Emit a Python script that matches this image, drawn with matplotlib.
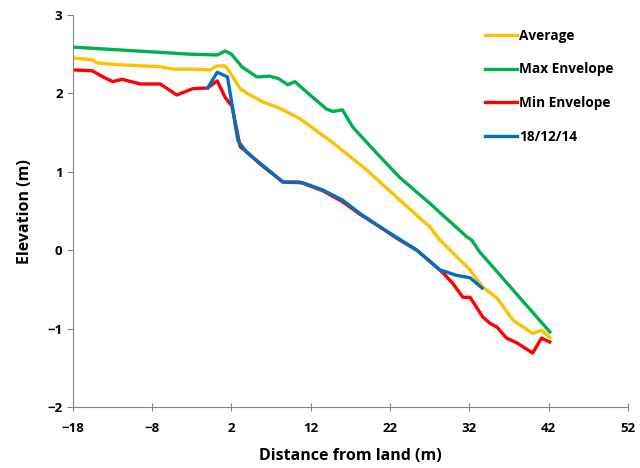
import matplotlib
matplotlib.use("Agg")
import matplotlib.pyplot as plt

# ─────────── data ───────────

avg_x = [-18, -15.6, -15, -13, -7, -5.4, -3.2, -0.7, 0.2, 1.2, 1.8, 3.1, 4, 6, 8.1,
         10.6, 14.8, 19.1, 22.9, 27, 28.3, 32.1, 33.7, 35.5, 37.5, 40, 41.1, 42.15]
avg_y = [2.45, 2.43, 2.39, 2.37, 2.34, 2.31, 2.31, 2.30, 2.35, 2.35, 2.27, 2.06, 2.0, 1.89, 1.81,
         1.68, 1.37, 1.02, 0.67, 0.30, 0.13, -0.25, -0.47, -0.61, -0.89, -1.06, -1.02, -1.11]

max_x = [-18, -3.2, 0.2, 1.2, 2, 3.3, 5.2, 6.8, 7.9, 9.1, 10, 11.9, 14, 14.8, 16,
         17.3, 20.3, 23.2, 27, 31.7, 32.3, 33.3, 42.15]
max_y = [2.59, 2.50, 2.49, 2.54, 2.50, 2.34, 2.21, 2.22, 2.19, 2.11, 2.15, 1.98, 1.80, 1.77, 1.79,
         1.57, 1.24, 0.93, 0.60, 0.17, 0.13, -0.02, -1.04]

min_x = [-18, -15.6, -14.2, -13, -11.8, -9.5, -7, -4.9, -2.9, -1, 0.2, 1.2, 2.05, 3.1, 4.1,
         5.6, 8.5, 10.6, 13.5, 16, 18.2, 20.7, 22.9, 25.4, 28.7, 29.9, 31.2, 32.1, 33.7, 34.6,
         35.5, 36.7, 38, 40, 41.1, 42.15]
min_y = [2.30, 2.29, 2.21, 2.15, 2.18, 2.12, 2.12, 1.98, 2.06, 2.07, 2.16, 1.95, 1.84, 1.32, 1.24,
         1.10, 0.87, 0.87, 0.76, 0.62, 0.46, 0.30, 0.15, 0.0, -0.29, -0.42, -0.60, -0.60, -0.85, -0.93,
         -0.98, -1.12, -1.18, -1.31, -1.12, -1.17]

obs_x = [-1, 0.2, 1.5, 2.8, 3.9, 5.6, 8.5, 11, 13.5, 16, 18.2, 20.7, 22.9, 25.4, 28.3, 30.4, 32.1, 33.6]
obs_y = [2.07, 2.27, 2.21, 1.40, 1.25, 1.11, 0.87, 0.86, 0.77, 0.64, 0.47, 0.30, 0.16, 0.0, -0.25, -0.32, -0.35, -0.48]

x_ticks = [-18, -8, 2, 12, 22, 32, 42, 52]
y_ticks = [-2, -1, 0, 1, 2, 3]

# ─────────── plot ───────────

plt.rcParams["font.family"] = ["Open Sans", "DejaVu Sans"]
fig = plt.figure(figsize=(6.4, 4.68), dpi=100)
ax = fig.add_axes([0.114, 0.130, 0.867, 0.838])

lw = 2.4
ax.plot(avg_x, avg_y, color="#FFC000", lw=lw, label="Average")
ax.plot(max_x, max_y, color="#00B050", lw=lw, label="Max Envelope")
ax.plot(min_x, min_y, color="#FF0000", lw=lw, label="Min Envelope")
ax.plot(obs_x, obs_y, color="#0070C0", lw=lw, label="18/12/14")

ax.set_xlim(-18, 52)
ax.set_ylim(-2, 3)
ax.set_xticks(x_ticks)
ax.set_yticks(y_ticks)
ax.set_xlabel("Distance from land (m)", fontsize=11.5, fontweight="bold", labelpad=9)
ax.set_ylabel("Elevation (m)", fontsize=11.5, fontweight="bold", labelpad=10)

for side in ("top", "right"):
    ax.spines[side].set_visible(False)
for side in ("left", "bottom"):
    ax.spines[side].set_color("#868686")
ax.tick_params(axis="both", colors="#868686", labelcolor="black", labelsize=9.5, length=4)
ax.tick_params(axis="x", direction="inout", length=6, pad=8)
for lbl in ax.get_xticklabels() + ax.get_yticklabels():
    lbl.set_fontweight("bold")

ax.legend(loc="upper left", bbox_to_anchor=(0.742, 0.965), frameon=False,
          borderpad=0, borderaxespad=0,
          prop={"weight": "bold", "size": 9.8}, handlelength=2.4, handletextpad=0.15,
          labelspacing=1.45)

fig.savefig("out.png", dpi=100)
